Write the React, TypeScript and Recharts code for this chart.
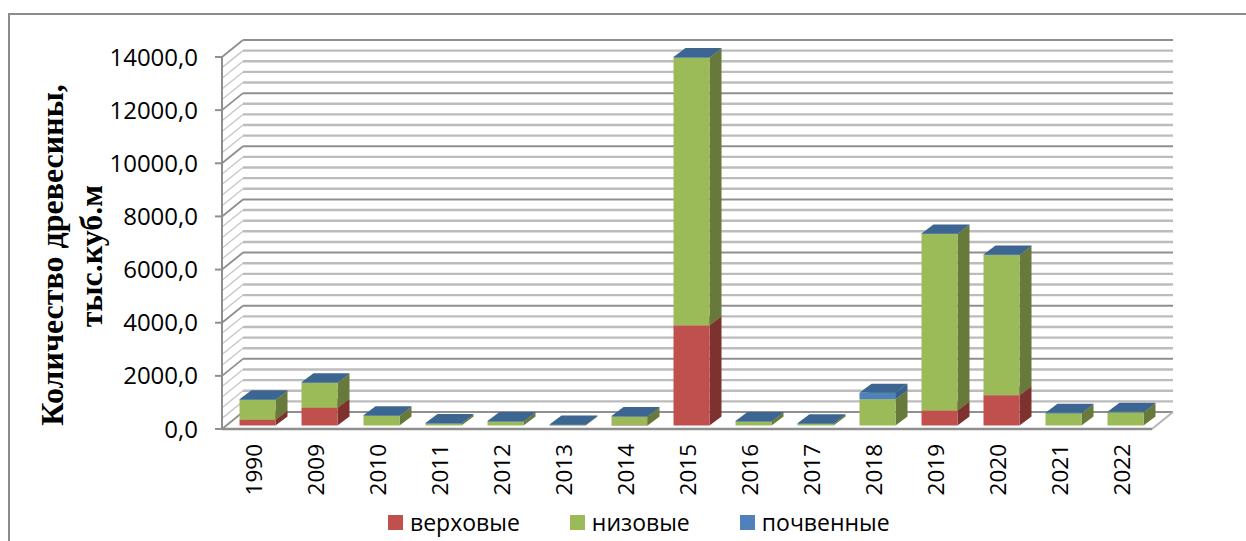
import React from 'react';
import { BarChart, Bar, XAxis, YAxis, CartesianGrid, Legend, Label } from 'recharts';

const years = ['1990', '2009', '2010', '2011', '2012', '2013', '2014', '2015', '2016', '2017', '2018', '2019', '2020', '2021', '2022'];
const crown = [215, 667, 0, 0, 0, 0, 10, 3770, 0, 0, 0, 565, 1140, 0, 0];
const surface = [745, 933, 360, 70, 140, 10, 320, 10070, 140, 55, 990, 6640, 5270, 450, 490];
const ground = [25, 25, 25, 25, 25, 25, 25, 30, 25, 25, 240, 25, 25, 30, 25];

const yTicks = [0, 2000, 4000, 6000, 8000, 10000, 12000, 14000];
const gridValues = [
  0, 400, 800, 1200, 1600, 2000, 2400, 2800, 3200, 3600, 4000, 4400, 4800, 5200, 5600, 6000, 6400, 6800,
  7200, 7600, 8000, 8400, 8800, 9200, 9600, 10000, 10400, 10800, 11200, 11600, 12000, 12400, 12800, 13200,
  13600, 14000,
];

const data = years.map((year, i) => ({
  year,
  crown: crown[i],
  surface: surface[i],
  ground: ground[i],
}));

const SANS = '"Open Sans", sans-serif';
const SERIF = '"Liberation Serif", serif';

// wall depth and bar depth of the fake 3d box
const WALL_X = 21;
const WALL_Y = 17;
const BAR_X = 12;
const BAR_Y = 9;

const SHADES: Record<string, { side: string; top: string }> = {
  '#c0504d': { side: '#7e3230', top: '#98403d' },
  '#9bbb59': { side: '#677a3c', top: '#7d9747' },
  '#4f81bd': { side: '#39608f', top: '#3c6592' },
};

function Box3D(props: any) {
  const { x, y, width, height, fill } = props;
  if (!height || height <= 0) return null;
  const shade = SHADES[fill];
  const l = x + 4.5;
  const r = l + width;
  const t = y - 3.5;
  const b = t + height;
  return (
    <g>
      <polygon points={`${r},${t} ${r + BAR_X},${t - BAR_Y} ${r + BAR_X},${b - BAR_Y} ${r},${b}`} fill={shade.side} />
      <polygon points={`${l},${t} ${r},${t} ${r + BAR_X},${t - BAR_Y} ${l + BAR_X},${t - BAR_Y}`} fill={shade.top} />
      <rect x={l} y={t} width={width} height={height} fill={fill} />
    </g>
  );
}

function WallLine(props: any) {
  const { x1, x2, y1, index } = props;
  const major = gridValues[index] % 2000 === 0;
  const floor = gridValues[index] === 0;
  const backY = y1 - WALL_Y;
  return (
    <g key={`wall-${index}`}>
      <line x1={x1} y1={y1} x2={x1 + WALL_X} y2={backY} stroke={major ? '#8f8f8f' : '#c6c6c6'} strokeWidth={major ? 1.8 : 1.3} />
      <line
        x1={x1 + WALL_X}
        y1={backY}
        x2={x2 + WALL_X}
        y2={backY}
        stroke={major ? '#8f8f8f' : '#bcbcbc'}
        strokeWidth={major ? 2 : 2.4}
      />
      {floor && <line x1={x2} y1={y1} x2={x2 + WALL_X} y2={backY} stroke="#b5b5b5" strokeWidth={2} />}
    </g>
  );
}

function YearTick(props: any) {
  const { x, y, payload } = props;
  return (
    <text
      x={x}
      y={y}
      transform={`rotate(-90 ${x} ${y})`}
      textAnchor="end"
      dominantBaseline="central"
      fontFamily={SANS}
      fontSize={22.5}
      fill="#000"
    >
      {payload.value}
    </text>
  );
}

function AxisTitle() {
  return (
    <g fontFamily={SERIF} fontWeight="bold" fill="#000" textAnchor="middle">
      <text x={63} y={255} transform="rotate(-90 63 255)" fontSize={32}>
        Количество древесины,
      </text>
      <text x={102} y={256} transform="rotate(-90 102 256)" fontSize={32}>
        тыс.куб.м
      </text>
    </g>
  );
}

function LegendRow({ payload }: any) {
  return (
    <div style={{ display: 'flex', alignItems: 'center', fontFamily: SANS, fontSize: 23, color: '#000', lineHeight: '30px' }}>
      {(payload || []).map((item: any) => (
        <div key={item.value} style={{ display: 'flex', alignItems: 'center', marginRight: 50 }}>
          <span style={{ width: 15, height: 15, background: item.color, marginRight: 7 }} />
          <span>{item.value}</span>
        </div>
      ))}
    </div>
  );
}

export default function App() {
  return (
    <div style={{ position: 'absolute', left: 0, top: 0, width: 1246, height: 541, overflow: 'hidden', background: '#fff' }}>
      <div
        style={{
          position: 'absolute',
          left: 8,
          top: 13,
          width: 1240,
          height: 530,
          borderTop: '2px solid #8c8c8c',
          borderLeft: '2px solid #8c8c8c',
        }}
      />
      <div style={{ position: 'absolute', left: 0, top: 0 }}>
        <BarChart
          width={1246}
          height={541}
          data={data}
          margin={{ top: 57, right: 94, bottom: 0, left: 0 }}
          style={{ background: 'transparent' }}
        >
          <CartesianGrid vertical={false} horizontalValues={gridValues} horizontal={WallLine as any} />
          <XAxis
            dataKey="year"
            interval={0}
            height={112}
            tickLine={false}
            tick={<YearTick />}
            tickMargin={9}
            axisLine={{ stroke: '#8f8f8f', strokeWidth: 2.5 }}
          />
          <YAxis
            width={222}
            domain={[0, 14000]}
            ticks={yTicks}
            interval={0}
            tickFormatter={(v: number) => `${v},0`}
            tick={{ fill: '#000', fontSize: 24, fontFamily: SANS }}
            tickSize={7}
            tickMargin={17}
            tickLine={{ stroke: '#8f8f8f', strokeWidth: 2 }}
            axisLine={{ stroke: '#8f8f8f', strokeWidth: 2 }}
          >
            <Label content={<AxisTitle />} />
          </YAxis>
          <Legend
            content={<LegendRow />}
            layout="vertical"
            verticalAlign="middle"
            align="center"
            wrapperStyle={{ left: 388, top: 507, width: 600, height: 30 }}
          />
          <Bar dataKey="crown" name="верховые" stackId="a" fill="#c0504d" barSize={36} shape={<Box3D />} isAnimationActive={false} />
          <Bar dataKey="surface" name="низовые" stackId="a" fill="#9bbb59" barSize={36} shape={<Box3D />} isAnimationActive={false} />
          <Bar dataKey="ground" name="почвенные" stackId="a" fill="#4f81bd" barSize={36} shape={<Box3D />} isAnimationActive={false} />
        </BarChart>
      </div>
    </div>
  );
}
